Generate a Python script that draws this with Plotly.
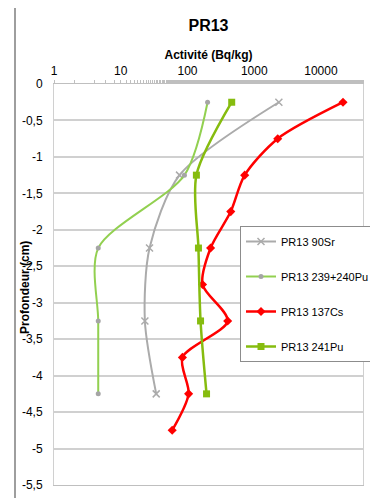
import plotly.graph_objects as go

depth = [-0.25, -0.75, -1.25, -1.75, -2.25, -2.75, -3.25, -3.75, -4.25, -4.75]

sr90_depth = [-0.25, -1.25, -2.25, -3.25, -4.25]
sr90 = [2340, 76, 27, 23, 34]

pu239_depth = [-0.25, -1.25, -2.25, -3.25, -4.25]
pu239 = [200, 90, 4.6, 4.6, 4.6]

cs137_depth = depth
cs137 = [21400, 2250, 720, 445, 222, 168, 400, 84, 104, 59]

pu241_depth = [-0.25, -1.25, -2.25, -3.25, -4.25]
pu241 = [460, 136, 146, 157, 193]

x_ticks = [1, 10, 100, 1000, 10000]
y_ticks = [0, -0.5, -1, -1.5, -2, -2.5, -3, -3.5, -4, -4.5, -5, -5.5]
y_labels = ["0" if v == 0 else (("%g" % v).replace(".", ",")) for v in y_ticks]

# page body has an 8px default margin: figure drawn at (8, 8)
W, H = 370, 490
PL, PT, PR, PB = 54, 84, 363, 485  # plot area in window pixels
OFF = 8

fig = go.Figure()
fig.add_trace(go.Scatter(
    x=sr90, y=sr90_depth, name="PR13 90Sr", mode="lines+markers",
    line=dict(color="#ABABAB", width=2, shape="spline", smoothing=0.8),
    marker=dict(symbol="x-thin", size=7, color="#ABABAB",
                line=dict(color="#ABABAB", width=1.5)),
    legendgroup="a"))
fig.add_trace(go.Scatter(
    x=pu239, y=pu239_depth, name="PR13 239+240Pu", mode="lines+markers",
    line=dict(color="#92D050", width=2, shape="spline", smoothing=0.8),
    marker=dict(symbol="circle", size=5, color="#A5A5A5"),
    legendgroup="b"))
fig.add_trace(go.Scatter(
    x=cs137, y=cs137_depth, name="PR13 137Cs", mode="lines+markers",
    line=dict(color="#FF0000", width=2.5, shape="spline", smoothing=0.8),
    marker=dict(symbol="diamond", size=7, color="#FF0000"),
    legendgroup="c"))
fig.add_trace(go.Scatter(
    x=pu241, y=pu241_depth, name="PR13 241Pu", mode="lines+markers",
    line=dict(color="#86BC0F", width=2.5, shape="spline", smoothing=0.8),
    marker=dict(symbol="square", size=7, color="#86BC0F"),
    legendgroup="d"))

pw = PR - PL
ph = PB - PT

fig.update_layout(
    width=W, height=H,
    margin=dict(l=PL - OFF, r=OFF + W - PR, t=PT - OFF, b=OFF + H - PB, autoexpand=False),
    paper_bgcolor="white", plot_bgcolor="white",
    font=dict(family="Liberation Sans, Arial, sans-serif", size=12, color="#404040"),
    separators=", ",
    title=dict(text="<b>PR13</b>", x=0.5, xref="paper", xanchor="center",
               y=1 - (25 - OFF) / H, yanchor="middle", font=dict(size=16, color="#000000")),
    xaxis=dict(type="log", side="top", range=[0, 4.63], automargin=False,
               tickvals=x_ticks, ticktext=[str(v) for v in x_ticks],
               showgrid=False, zeroline=False,
               showline=True, linecolor="#BFBFBF", linewidth=1,
               ticks="outside", ticklen=3, tickcolor="#BFBFBF",
               minor=dict(ticks="outside", ticklen=3, tickcolor="#BFBFBF", showgrid=False),
               mirror=True,
               tickfont=dict(size=12, color="#000000"),
               title=dict(text="<b>Activité (Bq/kg)</b>", standoff=2,
                          font=dict(size=12, color="#000000"))),
    yaxis=dict(range=[-5.5, 0], tickvals=y_ticks, ticktext=y_labels, automargin=False,
               showgrid=True, gridcolor="#D0D0D0", gridwidth=1.5,
               zeroline=False, showline=True, linecolor="#D0D0D0", linewidth=1,
               mirror=True, ticks="", ticklabelstandoff=8,
               tickfont=dict(size=12, color="#000000")),
    legend=dict(x=(240 - PL) / pw, y=(PB - 226) / ph, xanchor="left", yanchor="top",
                bgcolor="white", bordercolor="#8C8C8C", borderwidth=1,
                tracegroupgap=16, font=dict(size=11, color="#000000"),
                itemwidth=30),
    showlegend=True,
)

fig.add_annotation(text="<b>Profondeur (cm)</b>", textangle=-90,
                   xref="paper", yref="paper", x=(25 - PL) / pw, y=(PB - 288) / ph,
                   xanchor="center", yanchor="middle", showarrow=False,
                   font=dict(size=12, color="#000000"))

# outer chart frame
fig.add_shape(type="rect", xref="paper", yref="paper",
              x0=(15 - PL) / pw, x1=(400 - PL) / pw,
              y0=(PB - 520) / ph, y1=(PB - 4) / ph,
              line=dict(color="#7F7F7F", width=1.5), fillcolor="rgba(0,0,0,0)",
              layer="below")

fig.write_html("out.html")
